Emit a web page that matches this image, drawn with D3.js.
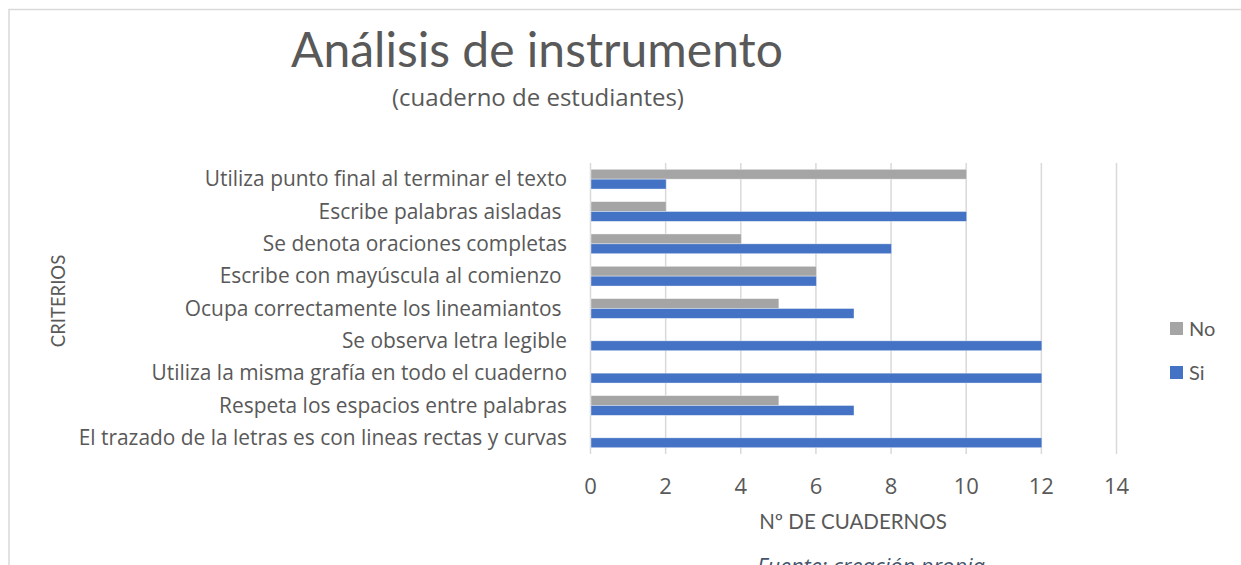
<!DOCTYPE html>
<html>
<head>
<meta charset="utf-8">
<script src="https://cdn.jsdelivr.net/npm/d3@7"></script>
<style>
  body { margin: 0; background: #fff; }
  text { font-family: 'Open Sans', sans-serif; fill: #595959; }
</style>
</head>
<body>
<script>
const width = 1241
const height = 565

// data
const criterios = [
  'Utiliza punto final al terminar el texto',
  'Escribe palabras aisladas ',
  'Se denota oraciones completas',
  'Escribe con mayúscula al comienzo ',
  'Ocupa correctamente los lineamiantos ',
  'Se observa letra legible',
  'Utiliza la misma grafía en todo el cuaderno',
  'Respeta los espacios entre palabras',
  'El trazado de la letras es con lineas rectas y curvas'
]
const si = [2, 10, 8, 6, 7, 12, 12, 7, 12]
const no = [10, 2, 4, 6, 5, 0, 0, 5, 0]
const series = ['No', 'Si']
const xTicks = [0, 2, 4, 6, 8, 10, 12, 14]

const colors = { No: '#a5a5a5', Si: '#4472c4' }

let svg = d3.select('body').append('svg')
  .attr('width', width)
  .attr('height', height)

// chart border
svg.append('path')
  .attr('d', `M9,${height + 2} V9.5 H${width + 2}`)
  .attr('fill', 'none')
  .attr('stroke', '#d9d9d9')
  .attr('stroke-width', 1.5)

const plot = { left: 590.5, right: 1116.5, top: 163, bottom: 454 }

const x = d3.scaleLinear().domain([0, 14]).range([plot.left, plot.right])
const y = d3.scaleBand().domain(criterios).range([plot.top, plot.bottom])
const sub = d3.scaleBand().domain(series).range([6.3, y.bandwidth() - 6.3])

// gridlines
svg.append('g')
  .selectAll('line')
  .data(xTicks)
  .enter()
  .append('line')
  .attr('x1', (d) => x(d))
  .attr('x2', (d) => x(d))
  .attr('y1', plot.top)
  .attr('y2', plot.bottom)
  .attr('stroke', '#d9d9d9')
  .attr('stroke-width', 1.5)

// bars
const rows = criterios.map((c, i) => ({ c, Si: si[i], No: no[i] }))

let group = svg.append('g')
  .selectAll('g')
  .data(rows)
  .enter()
  .append('g')
  .attr('transform', (d) => `translate(0,${y(d.c)})`)

group.selectAll('rect')
  .data((d) => series.map((s) => ({ s, v: d[s] })))
  .enter()
  .append('rect')
  .attr('x', x(0) + 0.5)
  .attr('y', (d) => sub(d.s))
  .attr('width', (d) => Math.max(0, x(d.v) - x(0)))
  .attr('height', sub.bandwidth())
  .attr('fill', (d) => colors[d.s])
  .attr('stroke', '#fff')
  .attr('stroke-opacity', 0.5)
  .attr('stroke-width', 0.75)

// category labels
svg.append('g')
  .selectAll('text')
  .data(criterios)
  .enter()
  .append('text')
  .attr('x', 567)
  .attr('y', (d) => y(d) + y.bandwidth() / 2 + 7)
  .attr('text-anchor', 'end')
  .style('white-space', 'pre')
  .style('font-size', '20.9px')
  .text((d) => d)

// x tick labels
svg.append('g')
  .selectAll('text')
  .data(xTicks)
  .enter()
  .append('text')
  .attr('x', (d) => x(d))
  .attr('y', 494)
  .attr('text-anchor', 'middle')
  .style('font-size', '22px')
  .text((d) => d)

// axis titles
svg.append('text')
  .attr('x', 853)
  .attr('y', 529)
  .attr('text-anchor', 'middle')
  .style('font-family', 'Lato, sans-serif')
  .style('font-size', '20.5px')
  .text('Nº DE CUADERNOS')

svg.append('text')
  .attr('transform', 'translate(65,301) rotate(-90)')
  .attr('text-anchor', 'middle')
  .style('font-family', 'Lato, sans-serif')
  .style('font-size', '18.5px')
  .text('CRITERIOS')

// title
svg.append('text')
  .attr('x', 537)
  .attr('y', 67)
  .attr('text-anchor', 'middle')
  .style('font-family', 'Lato, sans-serif')
  .style('font-size', '48px')
  .text('Análisis de instrumento')

svg.append('text')
  .attr('x', 538)
  .attr('y', 106)
  .attr('text-anchor', 'middle')
  .style('font-size', '24px')
  .text('(cuaderno de estudiantes)')

// legend
let legend = svg.append('g')
  .selectAll('g')
  .data(series)
  .enter()
  .append('g')
  .attr('transform', (d, i) => `translate(1170,${322 + i * 44})`)

legend.append('rect')
  .attr('width', 13)
  .attr('height', 13)
  .attr('fill', (d) => colors[d])

legend.append('text')
  .attr('x', 19)
  .attr('y', 14)
  .style('font-family', 'Lato, sans-serif')
  .style('font-size', '20px')
  .text((d) => d)

// source note (cut off at the bottom edge, as in the original)
svg.append('text')
  .attr('x', 757)
  .attr('y', 574)
  .style('font-size', '21.9px')
  .style('font-style', 'italic')
  .style('fill', '#44546a')
  .text('Fuente: creación propia')
</script>
</body>
</html>
